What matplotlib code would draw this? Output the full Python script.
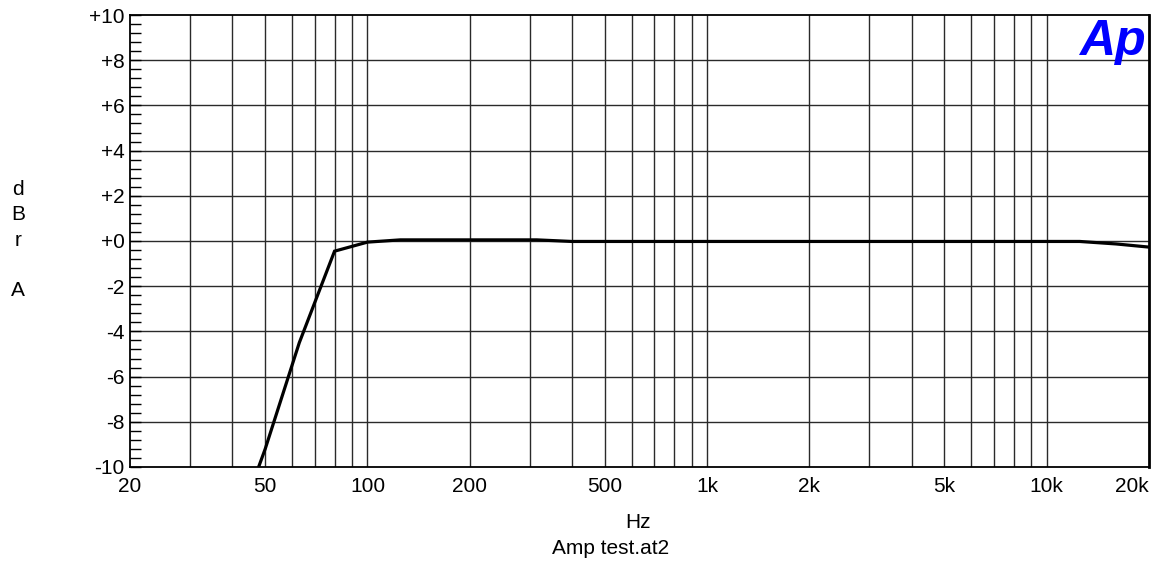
import matplotlib
matplotlib.use("Agg")
import matplotlib.pyplot as plt
from matplotlib.ticker import FixedLocator, MultipleLocator, NullLocator

plt.rcParams['font.family'] = ['Liberation Sans', 'DejaVu Sans']

freqs = [40, 50, 63, 80, 100, 125, 160, 200, 250, 315, 400, 500, 630, 800,
         1000, 1250, 1600, 2000, 2500, 3150, 4000, 5000, 6300, 8000, 10000,
         12500, 16000, 20000]
dbr = [-13.2, -9.2, -4.5, -0.45, -0.05, 0.05, 0.05, 0.05, 0.05, 0.05, -0.02,
       -0.02, -0.02, -0.02, -0.02, -0.02, -0.02, -0.02, -0.02, -0.02, -0.02,
       -0.02, -0.02, -0.02, -0.02, -0.02, -0.13, -0.27]

xtick_vals = [20, 50, 100, 200, 500, 1000, 2000, 5000, 10000, 20000]
xtick_labels = ["20", "50", "100", "200", "500", "1k", "2k", "5k", "10k", "20k"]
xgrid_vals = [30, 40, 50, 60, 70, 80, 90, 100, 200, 300, 400, 500, 600, 700,
              800, 900, 1000, 2000, 3000, 4000, 5000, 6000, 7000, 8000, 9000,
              10000]
ytick_vals = [10, 8, 6, 4, 2, 0, -2, -4, -6, -8, -10]
ytick_labels = ["+10", "+8", "+6", "+4", "+2", "+0", "-2", "-4", "-6", "-8", "-10"]

FS = 15

fig = plt.figure(figsize=(11.53, 5.69), dpi=100)
ax = fig.add_axes([0.1128, 0.1793, 0.9965 - 0.1128, 0.9736 - 0.1793])

ax.set_xscale('log')
ax.set_xlim(20, 20000)
ax.set_ylim(-10, 10)

# grid
for g in xgrid_vals:
    ax.axvline(g, color='#2a2a2a', lw=1.0, zorder=1)
for v in ytick_vals[1:-1]:
    ax.axhline(v, color='#2a2a2a', lw=1.0, zorder=1)

ax.plot(freqs, dbr, color='black', lw=2.3, zorder=3, solid_joinstyle='miter')

ax.xaxis.set_major_locator(FixedLocator(xtick_vals))
ax.xaxis.set_minor_locator(NullLocator())
ax.set_xticklabels(xtick_labels)
ax.tick_params(axis='x', which='both', length=0, pad=7, labelsize=FS)
for lbl in ax.get_xticklabels():
    if lbl.get_text() == "20k":
        lbl.set_horizontalalignment('right')

ax.yaxis.set_major_locator(FixedLocator(ytick_vals))
ax.set_yticklabels(ytick_labels)
ax.yaxis.set_minor_locator(MultipleLocator(0.4))
ax.tick_params(axis='y', which='major', direction='in', length=8, width=1,
               pad=4, labelsize=FS, right=False)
ax.tick_params(axis='y', which='minor', direction='in', length=8, width=1,
               right=False)

for s in ax.spines.values():
    s.set_linewidth(1.3)
    s.set_color('black')
ax.spines['right'].set_linewidth(2.0)

fig.text(18 / 1153, 1 - 240 / 569, "d\nB\nr\n\nA", ha='center', va='center',
         fontsize=FS, linespacing=1.41)
fig.text(638 / 1153, 1 - 522 / 569, "Hz", ha='center', va='center', fontsize=FS)
fig.text(611 / 1153, 1 - 548 / 569, "Amp test.at2", ha='center', va='center',
         fontsize=FS)

fig.text(1112 / 1153, 1 - 42 / 569, "Ap", ha='center', va='center',
         fontsize=36, fontweight='bold', style='italic', color='#0000ff')

fig.savefig("out.png", dpi=100)
